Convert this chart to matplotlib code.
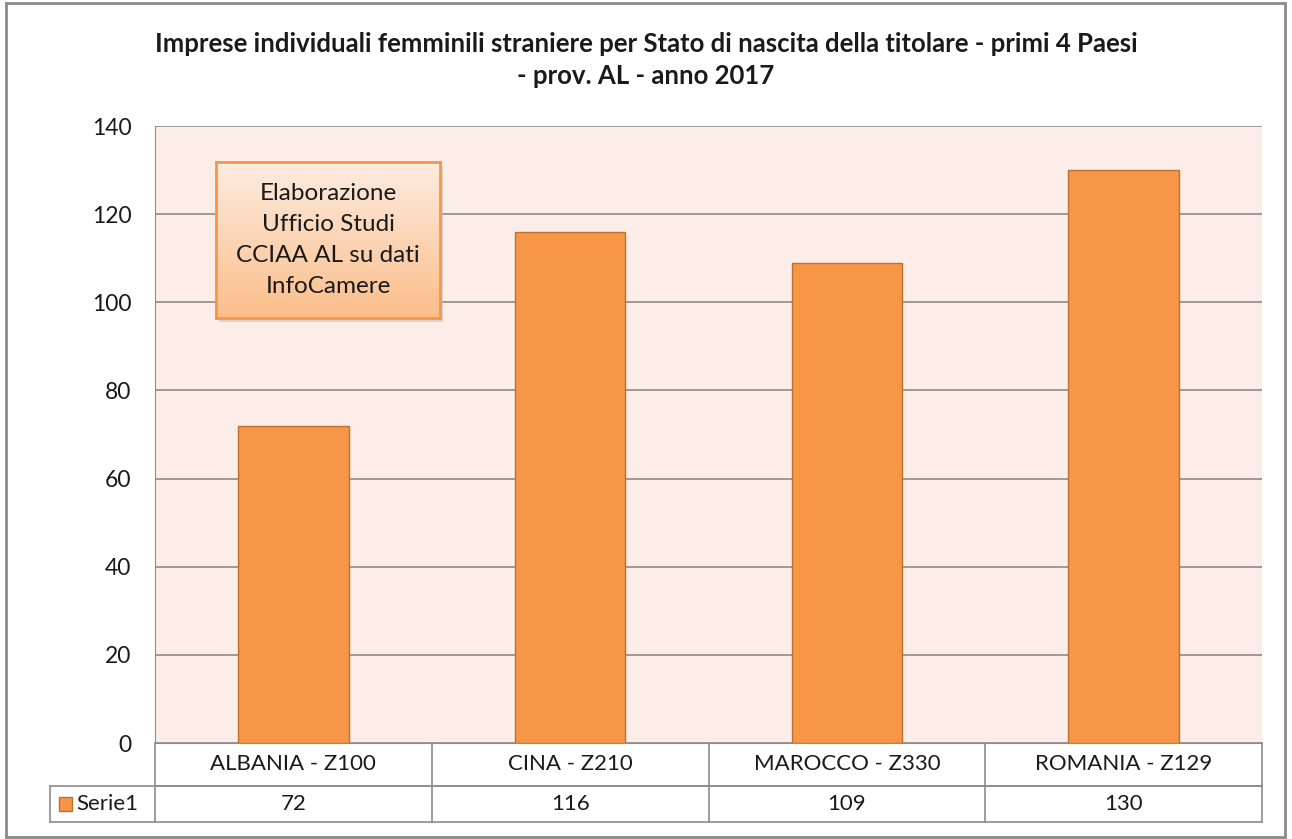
import numpy as np
import matplotlib.pyplot as plt
from matplotlib.patches import Rectangle
from matplotlib.transforms import blended_transform_factory

# data
paesi = ['ALBANIA - Z100', 'CINA - Z210', 'MAROCCO - Z330', 'ROMANIA - Z129']
imprese = [72, 116, 109, 130]
serie_nome = 'Serie1'
titolo = ('Imprese individuali femminili straniere per Stato di nascita della titolare - primi 4 Paesi\n'
          '- prov. AL - anno 2017')
nota = 'Elaborazione\nUfficio Studi\nCCIAA AL su dati\nInfoCamere'

plt.rcParams['font.family'] = ['Lato', 'DejaVu Sans']

bar_col = '#F79646'
edge_col = '#B9722F'
grid_col = '#8C8C8C'
bg_col = '#FDEDE9'
text_col = '#1A1A1A'

fig = plt.figure(figsize=(12.92, 8.39), dpi=100)

# outer frame of the chart
fig.patches.append(Rectangle((6/1292, 2/839), 1279/1292, 834/839, transform=fig.transFigure,
                             fill=False, edgecolor='#8A8A8A', lw=2))

ax = fig.add_axes([155/1292, 1 - 743/839, 1107/1292, 617/839])
ax.set_facecolor(bg_col)
x = np.arange(len(paesi))
ax.bar(x, imprese, width=0.4, color=bar_col, edgecolor=edge_col, lw=1, zorder=3)
ax.set_xlim(-0.5, len(paesi) - 0.5)
ax.set_ylim(0, 140)
ax.set_yticks(range(0, 141, 20))
ax.yaxis.grid(True, color=grid_col, lw=1.2, zorder=0)
ax.set_xticks([])
for s in ['top', 'right']:
    ax.spines[s].set_visible(False)
ax.spines['left'].set_color(grid_col)
ax.spines['bottom'].set_color(grid_col)
ax.tick_params(axis='y', length=0, pad=17, labelsize=16.5, labelcolor=text_col)

fig.text(0.5, 1 - 60/839, titolo, ha='center', va='center', fontsize=18.5,
         fontweight='bold', color=text_col, linespacing=1.35)

# data table under the plot
tr = blended_transform_factory(ax.transData, ax.transAxes)
r1 = -43/617
r2 = -79/617
legl = (50 - 155)/1107
lc = dict(color=grid_col, lw=1.2, clip_on=False)
ax.plot([-0.5, 3.5], [r1, r1], transform=tr, **lc)
ax.plot([legl, 1], [r1, r1], transform=ax.transAxes, **lc)
ax.plot([legl, 1], [r2, r2], transform=ax.transAxes, **lc)
ax.plot([legl, legl], [r1, r2], transform=ax.transAxes, **lc)
ax.plot([1, 1], [0, r2], transform=ax.transAxes, **lc)
for i in range(len(paesi)):
    ax.plot([i - 0.5, i - 0.5], [0, r2], transform=tr, **lc)
    ax.text(i, r1/2, paesi[i], transform=tr, ha='center', va='center', fontsize=16, color=text_col)
    ax.text(i, (r1 + r2)/2, str(imprese[i]), transform=tr, ha='center', va='center',
            fontsize=16, color=text_col)
ax.add_patch(Rectangle((legl + 0.008, (r1 + r2)/2 - 0.012), 0.012, 0.024, transform=ax.transAxes,
                       facecolor=bar_col, edgecolor=edge_col, lw=1, clip_on=False))
ax.text(legl + 0.024, (r1 + r2)/2, serie_nome, transform=ax.transAxes, ha='left', va='center',
        fontsize=16, color=text_col)

# note box with gradient and shadow
bx, by, bw, bh = 216/1292, 1 - 318/839, 224/1292, 156/839
fig.patches.append(Rectangle((bx + 3/1292, by - 4/839), bw, bh, transform=fig.transFigure,
                             facecolor='#C8C0BC', edgecolor='none', alpha=0.6, zorder=4))
bax = fig.add_axes([bx, by, bw, bh], zorder=5)
grad = np.linspace(0, 1, 256).reshape(-1, 1)
top_c = np.array([253, 236, 224]) / 255
bot_c = np.array([251, 190, 138]) / 255
img = top_c + (bot_c - top_c) * grad[:, :, None]
bax.imshow(img, aspect='auto', extent=[0, 1, 0, 1])
bax.set_xticks([])
bax.set_yticks([])
for s in bax.spines.values():
    s.set_color(bar_col)
    s.set_linewidth(2)
bax.text(0.5, 0.5, nota, ha='center', va='center', fontsize=17.5, color=text_col,
         linespacing=1.6, transform=bax.transAxes)

fig.savefig('out.png', dpi=100)
